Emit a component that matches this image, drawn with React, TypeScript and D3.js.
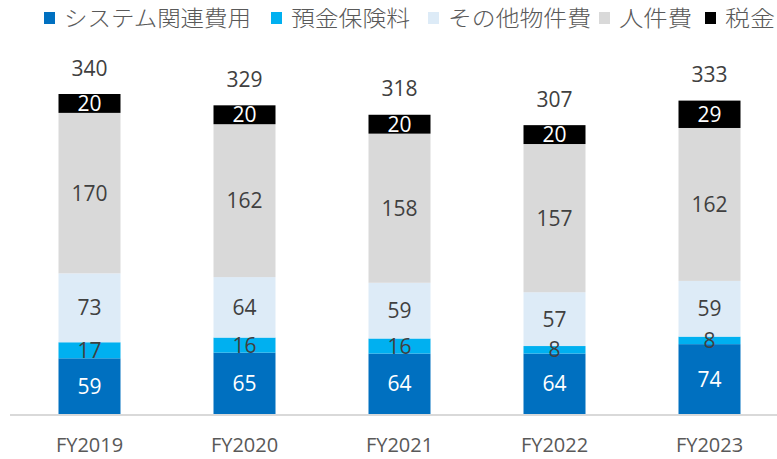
import * as d3 from 'd3';

const years = ['FY2019', 'FY2020', 'FY2021', 'FY2022', 'FY2023'];
const seriesNames = ['システム関連費用', '預金保険料', 'その他物件費', '人件費', '税金'];
const systemCost = [59, 65, 64, 64, 74];
const depositInsurance = [17, 16, 16, 8, 8];
const otherCost = [73, 64, 59, 57, 59];
const personnel = [170, 162, 158, 157, 162];
const taxes = [20, 20, 20, 20, 29];
const totals = [340, 329, 318, 307, 333];

const colors = ['#0070C0', '#00B0F0', '#DDEBF7', '#D9D9D9', '#000000'];
const labelColors = ['#ffffff', '#404040', '#404040', '#404040', '#ffffff'];

const W = 777;
const H = 459;
const baseY = 414;

export default function App() {
  const values = [systemCost, depositInsurance, otherCost, personnel, taxes];
  const rows = years.map((y, i) => {
    const r: Record<string, number | string> = { year: y };
    seriesNames.forEach((s, k) => (r[s] = values[k][i]));
    return r;
  });
  const stacked = d3.stack<any>().keys(seriesNames)(rows);

  const x = d3.scaleBand().domain(years).range([12, 787]).paddingInner(0.6).paddingOuter(0.3);
  const y = d3.scaleLinear().domain([0, 339]).range([baseY, 94]);

  // 凡例の配置
  const legendX = [44, 271, 428, 599, 705];
  const legendW = [187, 119, 143, 73, 50];

  return (
    <svg width={W} height={H} style={{ position: 'absolute', left: 0, top: 0 }}>
      <rect width={W} height={H} fill="#fff" />
      {seriesNames.map((s, k) => (
        <g key={s}>
          <rect x={legendX[k]} y={12} width={11} height={12} fill={colors[k]} />
          <text
            x={legendX[k] + 20}
            y={26}
            fontFamily="'Noto Sans CJK JP'"
            fontSize={22}
            fontWeight={300}
            fill="#595959"
            textLength={legendW[k]}
            lengthAdjust="spacingAndGlyphs"
          >
            {s}
          </text>
        </g>
      ))}
      <line x1={10} x2={W} y1={baseY + 1} y2={baseY + 1} stroke="#D9D9D9" strokeWidth={2} />
      {/* 積み上げ棒 */}
      {stacked.map((layer, k) => (
        <g key={layer.key}>
          {layer.map((d, i) => (
            <rect
              key={i}
              x={x(years[i])!}
              y={y(d[1])}
              width={x.bandwidth()}
              height={y(d[0]) - y(d[1])}
              fill={colors[k]}
            />
          ))}
        </g>
      ))}
      {/* 数値ラベル（棒の上に重ねる） */}
      {stacked.map((layer, k) => (
        <g key={layer.key + '-lbl'}>
          {layer.map((d, i) => (
            <text
              key={i}
              x={x(years[i])! + x.bandwidth() / 2}
              y={(y(d[0]) + y(d[1])) / 2}
              dy="0.36em"
              textAnchor="middle"
              fontFamily="'Open Sans', sans-serif"
              fontSize={21}
              fill={labelColors[k]}
            >
              {values[k][i]}
            </text>
          ))}
        </g>
      ))}
      {years.map((yr, i) => {
        const top = stacked[stacked.length - 1][i][1];
        return (
          <g key={yr}>
            <text
              x={x(yr)! + x.bandwidth() / 2}
              y={y(top) - 26}
              dy="0.36em"
              textAnchor="middle"
              fontFamily="'Open Sans', sans-serif"
              fontSize={21}
              fill="#404040"
            >
              {totals[i]}
            </text>
            <text
              x={x(yr)! + x.bandwidth() / 2}
              y={445}
              dy="0.36em"
              textAnchor="middle"
              fontFamily="'Open Sans', sans-serif"
              fontSize={20}
              fill="#595959"
            >
              {yr}
            </text>
          </g>
        );
      })}
    </svg>
  );
}
